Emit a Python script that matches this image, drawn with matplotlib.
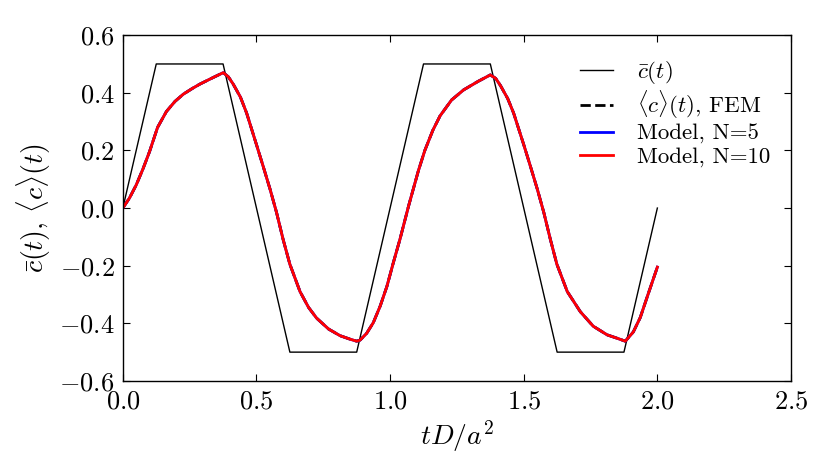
import numpy as np
import matplotlib
matplotlib.use("Agg")
import matplotlib.pyplot as plt

plt.rcParams['font.family'] = 'serif'
plt.rcParams['font.serif'] = ['cmr10']
plt.rcParams['mathtext.fontset'] = 'cm'
plt.rcParams['axes.formatter.use_mathtext'] = True
plt.rcParams['axes.unicode_minus'] = True

# forcing (trapezoid wave)
t_bar = [0.0, 0.125, 0.375, 0.625, 0.875, 1.125, 1.375, 1.625, 1.875, 2.0]
c_bar = [0.0, 0.5, 0.5, -0.5, -0.5, 0.5, 0.5, -0.5, -0.5, 0.0]

# averaged response
t_model = [0.0, 0.025, 0.05, 0.075, 0.1, 0.13, 0.163, 0.195, 0.226, 0.26, 0.288, 0.338, 0.376,
           0.395, 0.413, 0.44, 0.463, 0.5, 0.525, 0.551, 0.575, 0.6, 0.625, 0.663, 0.695, 0.725,
           0.77, 0.813, 0.85, 0.875, 0.888, 0.912, 0.937, 0.963, 0.988, 1.012, 1.037, 1.07,
           1.106, 1.13, 1.16, 1.187, 1.23, 1.275, 1.33, 1.375, 1.395, 1.413, 1.44, 1.462, 1.5,
           1.525, 1.551, 1.575, 1.6, 1.624, 1.663, 1.712, 1.76, 1.812, 1.85, 1.88, 1.91, 1.936,
           1.965, 2.0]
c_model = [0.0, 0.035, 0.08, 0.135, 0.196, 0.28, 0.335, 0.37, 0.395, 0.415, 0.43, 0.453, 0.47,
           0.455, 0.43, 0.385, 0.33, 0.22, 0.145, 0.065, -0.015, -0.11, -0.195, -0.29, -0.345, -0.382,
           -0.42, -0.443, -0.455, -0.462, -0.458, -0.435, -0.398, -0.34, -0.272, -0.19, -0.108, 0.01,
           0.13, 0.2, 0.27, 0.32, 0.375, 0.41, 0.44, 0.462, 0.45, 0.425, 0.38, 0.33, 0.22,
           0.145, 0.065, -0.015, -0.11, -0.195, -0.29, -0.36, -0.41, -0.44, -0.452, -0.462, -0.43, -0.38,
           -0.3, -0.205]

fig = plt.figure(figsize=(8.3, 4.75), dpi=100)
ax = fig.add_axes([0.148, 0.198, 0.805, 0.728])

ax.plot(t_bar, c_bar, color='k', lw=1.0, label=r'$\bar{c}(t)$')
ax.plot(t_model, c_model, color='k', lw=2.0, ls='--', label=r'$\langle c\rangle(t)$, FEM')
ax.plot(t_model, c_model, color='b', lw=2.0, label='Model, N=5')
ax.plot(t_model, c_model, color='r', lw=2.0, label='Model, N=10')

ax.set_xlim(0, 2.5)
ax.set_ylim(-0.6, 0.6)
ax.set_xticks([0.0, 0.5, 1.0, 1.5, 2.0, 2.5])
ax.set_yticks([-0.6, -0.4, -0.2, 0.0, 0.2, 0.4, 0.6])
ax.xaxis.set_major_formatter(matplotlib.ticker.FormatStrFormatter('$%.1f$'))
ax.yaxis.set_major_formatter(matplotlib.ticker.FormatStrFormatter('$%.1f$'))
ax.tick_params(direction='in', top=True, right=True, length=5, width=0.8, labelsize=19, pad=6)
for s in ax.spines.values():
    s.set_linewidth(1.0)

ax.set_xlabel(r'$tD/a^2$', fontsize=20)
ax.set_ylabel(r'$\bar{c}(t),\,\langle c\rangle(t)$', fontsize=20)

ax.legend(loc='upper left', bbox_to_anchor=(0.653, 0.99), frameon=False, fontsize=16.5,
          handlelength=1.45, handletextpad=1.05, labelspacing=0.12)

fig.savefig('out.png', dpi=100)
